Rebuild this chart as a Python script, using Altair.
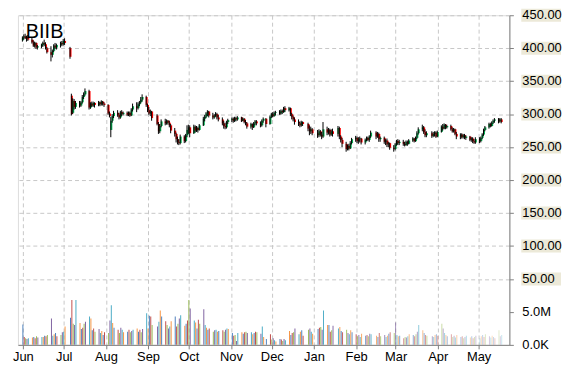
import altair as alt
import pandas as pd

TICKER = "BIIB"

# trading days per month (Jun 2015 .. May 2016)
MONTH_DAYS = [
    (2015, 6, [1,2,3,4,5,8,9,10,11,12,15,16,17,18,19,22,23,24,25,26,29,30]),
    (2015, 7, [1,2,6,7,8,9,10,13,14,15,16,17,20,21,22,23,24,27,28,29,30,31]),
    (2015, 8, [3,4,5,6,7,10,11,12,13,14,17,18,19,20,21,24,25,26,27,28,31]),
    (2015, 9, [1,2,3,4,8,9,10,11,14,15,16,17,18,21,22,23,24,25,28,29,30]),
    (2015, 10, [1,2,5,6,7,8,9,12,13,14,15,16,19,20,21,22,23,26,27,28,29,30]),
    (2015, 11, [2,3,4,5,6,9,10,11,12,13,16,17,18,19,20,23,24,25,27,30]),
    (2015, 12, [1,2,3,4,7,8,9,10,11,14,15,16,17,18,21,22,23,24,28,29,30,31]),
    (2016, 1, [4,5,6,7,8,11,12,13,14,15,19,20,21,22,25,26,27,28,29]),
    (2016, 2, [1,2,3,4,5,8,9,10,11,12,16,17,18,19,22,23,24,25,26,29]),
    (2016, 3, [1,2,3,4,7,8,9,10,11,14,15,16,17,18,21,22,23,24,28,29,30,31]),
    (2016, 4, [1,4,5,6,7,8,11,12,13,14,15,18,19,20,21,22,25,26,27,28,29]),
    (2016, 5, [2,3,4,5,6,9,10,11,12,13,16,17,18]),
]

OPEN = [
    412,416,418,415,417,413,409,404,408,401,403,405,408,406,400,394,390,396,404,401,405,408,
    406,411,400,328,302,320,311,317,313,318,326,330,335,310,316,313,317,314,318,315,319,316,
    314,301,276,290,297,302,299,295,303,300,302,299,302,298,307,312,309,315,318,322,326,
    314,306,301,304,298,285,274,282,289,286,290,287,283,275,270,262,258,256,266,259,268,
    276,280,271,281,275,279,276,283,293,296,301,304,298,295,298,300,295,292,286,282,280,288,
    291,293,290,294,292,295,290,293,288,286,281,285,280,286,289,286,283,290,293,285,
    296,300,297,302,303,301,305,303,309,306,309,300,296,292,288,286,283,288,285,278,274,277,
    271,268,274,269,266,277,272,276,269,274,270,279,266,261,255,247,252,248,256,
    262,264,259,262,263,257,261,264,261,266,272,266,270,262,264,258,260,254,256,249,
    247,254,259,256,258,255,253,258,255,260,263,259,264,271,277,280,273,268,271,267,270,272,
    266,273,281,278,284,280,282,277,274,277,270,266,269,265,268,264,266,261,263,259,257,
    262,259,264,269,276,280,285,282,287,290,292,289,292,
]
HIGH = [
    418,421,422,419,420,416,412,410,409,405,407,410,413,409,402,403,398,406,408,407,410,411,
    414,415,402,331,324,323,320,320,320,329,333,339,337,318,319,319,318,320,319,321,320,318,
    315,304,296,300,305,306,302,305,306,304,304,304,304,309,316,318,318,320,326,330,328,
    316,311,307,305,300,288,285,292,293,292,291,290,285,279,272,266,262,269,268,270,283,
    284,283,284,283,282,281,285,296,299,303,306,305,302,300,303,302,299,295,290,287,290,293,
    295,295,296,296,297,296,295,294,291,288,287,286,288,291,291,289,292,295,294,298,
    302,303,304,305,306,307,307,311,312,311,310,302,298,295,292,289,290,289,287,283,281,279,
    276,277,276,273,288,281,279,278,277,278,282,281,268,264,258,254,255,259,264,
    267,266,265,266,264,263,266,266,268,275,274,273,272,266,266,262,263,258,257,253,
    256,261,262,261,261,258,260,260,262,265,264,266,274,280,284,282,277,274,274,273,274,274,
    275,283,285,286,285,284,284,280,279,278,273,271,271,270,270,268,267,265,265,262,265,
    265,266,271,278,282,287,287,289,292,294,294,294,294,
]
LOW = [
    410,413,414,410,411,407,402,401,399,398,400,402,403,398,392,380,386,394,399,398,401,403,
    404,405,384,298,300,307,308,310,311,316,323,328,307,308,311,311,310,312,312,313,313,311,
    299,295,265,287,294,296,292,293,297,298,297,297,296,297,304,303,307,312,316,319,311,
    303,299,297,290,283,270,271,280,283,284,284,280,271,266,257,254,253,254,256,257,265,
    270,265,270,272,273,272,275,282,289,294,297,295,292,293,296,292,289,283,278,277,278,285,
    288,287,288,289,290,288,289,286,283,278,278,276,279,283,283,280,281,287,280,284,
    294,295,296,298,299,299,300,302,303,304,297,292,289,284,282,280,281,282,274,268,270,268,
    264,265,266,262,264,268,269,266,267,266,266,262,257,250,243,245,245,247,254,
    258,256,255,257,254,254,259,259,258,264,262,264,258,258,255,253,250,250,246,243,
    245,252,253,253,252,251,252,252,254,258,257,258,262,269,274,270,265,265,264,265,266,264,
    265,272,275,277,277,278,275,272,272,268,262,262,263,263,262,261,259,258,256,255,255,
    256,257,262,267,274,278,280,281,285,287,286,287,286,
]
CLOSE = [
    416,418,415,417,413,409,404,408,401,403,405,408,406,400,394,390,396,404,401,405,408,406,
    411,408,387,300,320,311,317,313,318,326,330,335,310,316,313,317,314,318,315,319,316,314,
    301,297,290,297,302,299,295,303,300,302,299,302,298,307,312,309,315,318,322,326,314,
    306,301,304,294,285,274,282,289,286,290,287,283,275,270,262,258,256,266,259,268,276,
    280,271,281,275,279,276,283,293,296,301,304,298,295,298,300,295,292,286,282,280,288,291,
    293,290,294,292,295,290,293,288,286,281,285,280,286,289,286,283,290,293,285,296,
    300,297,302,303,301,305,303,309,306,309,300,296,292,288,286,283,288,285,278,274,277,271,
    268,274,269,266,277,272,276,269,274,270,279,266,261,255,247,252,248,256,262,
    264,259,262,263,257,261,264,261,266,272,266,270,262,264,258,260,254,256,249,247,
    254,259,256,258,255,253,258,255,260,263,259,264,271,277,280,273,268,271,267,270,272,266,
    273,281,278,284,280,282,277,274,277,270,266,269,265,268,264,266,261,263,259,257,262,
    259,264,269,276,280,285,282,287,290,292,289,292,288,
]
# volume, millions of shares
VOLUME_M = [
    3.1,1.2,1.0,0.9,1.0,1.1,1.2,1.0,1.3,1.1,1.2,1.2,1.4,1.3,1.5,4.0,1.4,1.6,1.8,1.3,1.5,1.9,
    2.0,2.8,4.1,6.8,3.2,3.0,6.8,3.3,2.4,2.6,3.2,3.5,4.3,4.0,2.2,2.5,2.0,2.4,1.8,2.1,1.5,1.9,
    1.8,3.7,6.0,3.3,2.6,2.3,1.8,2.6,2.3,1.9,2.0,2.3,1.9,2.1,2.3,2.5,2.0,2.3,1.9,2.4,4.8,
    2.5,4.4,4.3,3.0,2.8,3.5,5.2,4.3,3.6,3.0,2.5,2.8,3.6,4.3,2.8,3.2,4.0,4.5,2.9,3.2,3.7,
    6.8,5.5,3.7,3.4,2.5,3.8,3.2,5.4,3.0,2.6,2.3,2.5,2.0,2.2,2.3,2.0,2.1,2.2,2.0,2.3,2.5,2.4,
    1.8,1.4,1.5,0.6,1.8,1.9,1.7,1.9,2.0,1.8,1.9,1.6,1.8,2.0,1.9,1.7,2.8,1.2,0.9,1.6,
    0.8,1.0,0.7,0.5,0.9,0.8,0.6,0.9,0.7,2.1,1.5,1.8,1.9,2.5,1.6,2.0,2.2,1.4,2.3,2.5,2.0,1.7,
    2.4,2.6,2.7,2.3,5.2,3.0,3.0,2.0,2.2,2.9,2.5,2.7,2.1,1.9,2.3,1.8,1.6,2.2,1.9,
    1.6,1.3,1.5,1.2,1.7,1.4,1.5,1.3,1.7,1.6,1.4,1.2,1.8,1.3,1.5,1.2,1.4,1.7,1.9,1.8,
    3.4,1.5,1.3,1.4,1.0,1.2,1.1,1.3,1.6,1.5,1.3,1.6,2.0,3.0,2.2,1.8,1.5,1.4,1.3,1.2,1.5,1.6,
    1.4,3.2,2.5,1.8,1.5,1.3,1.6,1.2,1.4,1.1,1.5,1.2,1.3,1.0,1.2,1.4,1.1,1.3,1.0,1.2,1.4,
    1.0,1.3,1.5,1.2,1.6,1.3,1.1,1.4,1.2,1.0,2.2,1.3,1.5,
]

PRICE_TICKS = [50, 100, 150, 200, 250, 300, 350, 400, 450]
VOLUME_TICKS_M = [0, 5]
VOLUME_TICK_LABELS = ["0.0K", "5.0M"]
MONTH_TICKS = [(2015, m) for m in range(6, 13)] + [(2016, m) for m in range(1, 6)]

DATES = [f"{y:04d}-{m:02d}-{d:02d}" for (y, m, days) in MONTH_DAYS for d in days]

df = pd.DataFrame({
    "date": DATES, "open": OPEN, "high": HIGH, "low": LOW, "close": CLOSE,
    "vol": VOLUME_M, "i": list(range(len(DATES))),
})
price_lbl = pd.DataFrame({"t": PRICE_TICKS})
vol_lbl = pd.DataFrame({"m": VOLUME_TICKS_M, "label": VOLUME_TICK_LABELS})
title_df = pd.DataFrame({"label": [TICKER]})

W, H = 495, 332
FONT = "Liberation Sans"
UP, DOWN = "#00B050", "#FF0000"
OFFICE = ["#4F81BD", "#C0504D", "#9BBB59", "#8064A2", "#4BACC6", "#F79646"]
GRID = "#c8c8c8"
AX = "#808080"

# volume pane shares the price axis: 5M -> price 0, 0 -> price -50
VOL_EXPR = "datum.m * 10 - 50"

x_axis = alt.Axis(
    values=[alt.DateTime(year=y, month=m, date=1, utc=True) for (y, m) in MONTH_TICKS],
    labelExpr="utcFormat(datum.value, '%b')", title=None,
    grid=True, gridColor=GRID, gridDash=[4, 3], gridWidth=1,
    domainColor=AX, tickColor=AX, tickSize=4,
    labelFont=FONT, labelFontSize=13, labelColor="#000000", labelPadding=2,
    labelFlush=False, labelOverlap=False,
)
x_scale = alt.Scale(type="utc", domain=[
    alt.DateTime(year=2015, month=6, date=1, utc=True),
    alt.DateTime(year=2016, month=5, date=20, utc=True),
])
y_scale = alt.Scale(domain=[-50, 450], nice=False, zero=False)
y_axis = alt.Axis(
    orient="right", values=[-50, 0] + PRICE_TICKS, labels=False, title=None,
    grid=True, gridColor=GRID, gridDash=[4, 3],
    gridOpacity={"condition": {"test": "datum.value <= 0", "value": 0}, "value": 1},
    domainColor=AX, tickColor=AX, tickSize=4,
)

def X(field):
    return alt.X(field, scale=x_scale, axis=x_axis)

def Y(field):
    return alt.Y(field, scale=y_scale, axis=y_axis)

base = alt.Chart(df)

volume = base.transform_calculate(
    vy="datum.vol * 10 - 50", vb="-50", col="datum.i % 6",
    op="datum.i < 150 ? 1 : max(0.3, 1 - (datum.i - 150) * 0.0075)",
).mark_bar(width=1).encode(
    x=X("date:T"), y=Y("vy:Q"), y2="vb:Q",
    color=alt.Color("col:N", scale=alt.Scale(domain=[0, 1, 2, 3, 4, 5], range=OFFICE), legend=None),
    opacity=alt.Opacity("op:Q", scale=None),
)

body = base.mark_bar(width=2).encode(
    x=X("date:T"), y=Y("open:Q"), y2="close:Q",
    color=alt.condition("datum.close >= datum.open", alt.value(UP), alt.value(DOWN)),
)

wick = base.mark_rule(color="#000000", strokeWidth=1, xOffset=-0.5).encode(
    x=X("date:T"), y=Y("low:Q"), y2="high:Q",
)

label_bg = alt.Chart(price_lbl).transform_calculate(
    lo="datum.t - 9.8", hi="datum.t + 9.8"
).mark_rect(color="#ECE9D8").encode(
    x=alt.value(W + 12), x2=alt.value(W + 52), y=Y("lo:Q"), y2="hi:Q",
)

price_text = alt.Chart(price_lbl).transform_calculate(
    label="format(datum.t, '.2f')"
).mark_text(align="left", baseline="middle", font=FONT, fontSize=13, color="#000000").encode(
    x=alt.value(W + 13), y=Y("t:Q"), text="label:N",
)

vol_text = alt.Chart(vol_lbl).transform_calculate(
    vy=VOL_EXPR
).mark_text(align="left", baseline="middle", font=FONT, fontSize=13, color="#000000").encode(
    x=alt.value(W + 13), y=Y("vy:Q"), text="label:N",
)

title = alt.Chart(title_df).mark_text(
    align="left", baseline="alphabetic", font=FONT, fontSize=20, color="#000000"
).encode(x=alt.value(8), y=alt.value(23), text="label:N")

chart = alt.layer(volume, body, wick, label_bg, price_text, vol_text, title).properties(
    width=W, height=H,
    autosize=alt.AutoSizeParams(type="none"),
    padding={"left": 10, "top": 6, "right": 53, "bottom": 22},
).configure_view(stroke=None).configure(background="#ffffff")

chart.save("out.html", embed_options={"renderer": "svg", "actions": False})
